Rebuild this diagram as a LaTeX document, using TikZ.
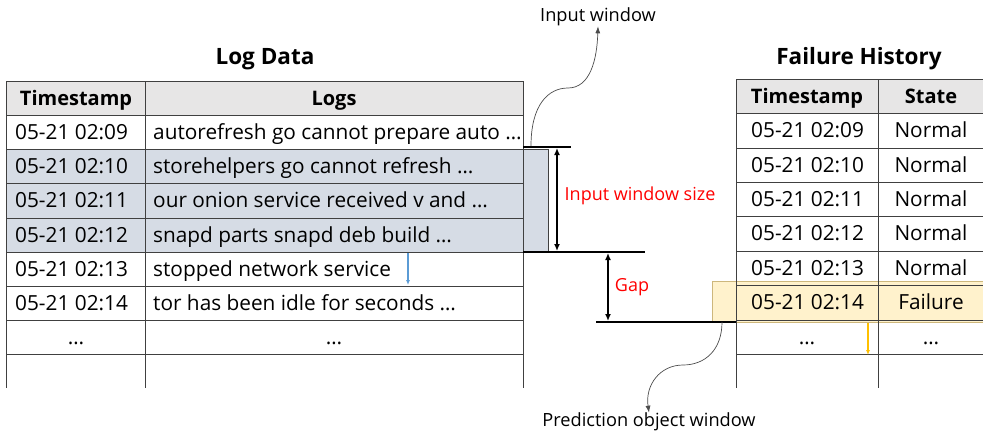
\documentclass[tikz,border=0pt]{standalone}
\usepackage{fontspec}
\setmainfont{Open Sans}
\usetikzlibrary{arrows.meta}
\definecolor{headgray}{HTML}{E7E6E6}
\definecolor{winblue}{HTML}{D6DCE5}
\definecolor{predyellow}{HTML}{FFF2CC}
\definecolor{predborder}{HTML}{CDB77C}
\definecolor{gridline}{HTML}{404040}
\definecolor{stepblue}{HTML}{5B9BD5}
\definecolor{stepgold}{HTML}{FFC000}
\tikzset{
  cell/.style={inner sep=0pt,text height=14.8pt,text depth=0pt,font=\fontsize{20.8}{24}\selectfont},
  headcell/.style={cell,font=\fontsize{20}{24}\selectfont\bfseries},
  title/.style={inner sep=0pt,font=\fontsize{22.5}{26}\selectfont\bfseries},
  note/.style={inner sep=0pt,font=\fontsize{18.2}{21}\selectfont},
  redlabel/.style={inner sep=0pt,text=red,font=\fontsize{18}{21}\selectfont},
  bracket/.style={line width=1.8pt},
  span/.style={line width=1.8pt,{Latex[length=7pt,width=6pt]}-{Latex[length=7pt,width=6pt]}},
  pointer/.style={gray!60!black,line width=0.7pt,-{Latex[length=7pt,width=5pt]}}
}
\begin{document}
\begin{tikzpicture}[x=1pt,y=-1pt]
\useasboundingbox (0,0) rectangle (983,434);

% Log Data table
\fill[headgray] (6,81) rectangle (523,115);
\filldraw[fill=winblue,draw=gridline] (6,149) rectangle (548,252);
\foreach \y in {81,115,149,183,218,252,286,320,354}
  \draw[gridline] (6,\y) -- (523,\y);
\foreach \x in {6,145,523}
  \draw[gridline] (\x,81) -- (\x,388);
\node[title] (logtitle) at (265,59) {Log Data};
\node[headcell] (lhtime) at (76,98) {Timestamp};
\node[headcell] (lhlogs) at (334,98) {Logs};
\foreach \y/\t/\m [count=\i] in {132/02:09/autorefresh go cannot prepare auto \ldots,
    166/02:10/storehelpers go cannot refresh \ldots,
    200.5/02:11/our onion service received v and \ldots,
    235/02:12/snapd parts snapd deb build \ldots,
    269/02:13/stopped network service,
    303/02:14/tor has been idle for seconds \ldots}{
  \node[cell,anchor=west] (ltime\i) at (15,\y) {05-21 \t};
  \node[cell,anchor=west] (llog\i) at (153,\y) {\m};
}
\node[cell] (ltime7) at (76,337) {\ldots};
\node[cell] (llog7) at (334,337) {\ldots};

% Failure History table
\fill[headgray] (736,79) rectangle (983,113);
\filldraw[fill=predyellow,draw=predborder] (712,281) rectangle (990,322);
\foreach \y in {79,113,148,182,216,251,285,320,354}
  \draw[gridline] (736,\y) -- (983,\y);
\foreach \x in {736,878}
  \draw[gridline] (\x,79) -- (\x,388);
\node[title] (failtitle) at (859,59) {Failure History};
\node[headcell] (rhtime) at (807,96) {Timestamp};
\node[headcell] (rhstate) at (931,96) {State};
\foreach \y/\t/\s [count=\i] in {130.5/02:09/Normal,165/02:10/Normal,199/02:11/Normal,
    233.5/02:12/Normal,268/02:13/Normal,302.5/02:14/Failure}{
  \node[cell,anchor=west] (rtime\i) at (751,\y) {05-21 \t};
  \node[cell] (rstate\i) at (931,\y) {\s};
}
\node[cell] (rtime7) at (807,337) {\ldots};
\node[cell] (rstate7) at (931,337) {\ldots};

% window markers
\coordinate (iwl) at (523,147);  \coordinate (iwr) at (571,147);
\coordinate (iwbl) at (523,252); \coordinate (iwbr) at (645,252);
\coordinate (gpl) at (596,322);  \coordinate (gpr) at (736,322);
\draw[bracket] (iwl) -- (iwr);
\draw[bracket] (iwbl) -- (iwbr);
\draw[bracket] (gpl) -- (gpr);
\draw[span] (557,148) -- (557,251);
\draw[span] (608,253) -- (608,321);
\node[redlabel] (wsize) at (640,196) {Input window size};
\node[redlabel] (gap) at (632,287) {Gap};

\draw[stepblue,line width=1.3pt,-{Latex[length=5pt,width=4pt]}] (408,253) -- (408,285);
\draw[stepgold,line width=1.3pt,-{Latex[length=5pt,width=4pt]}] (868,323) -- (868,355);

\node[note] (iwlabel) at (598,17) {Input window};
\node[note] (pwlabel) at (649,422) {Prediction object window};
\coordinate (iwfoot) at (531,146);
\coordinate (pwfoot) at (722,322);
\draw[pointer] (iwfoot) .. controls (531,105) and (548,88) .. (568,88)
  .. controls (590,88) and (597,60) .. (iwlabel.south);
\draw[pointer] (pwfoot) .. controls (722,350) and (705,365) .. (683,365)
  .. controls (660,365) and (645,385) .. (pwlabel.north);

\end{tikzpicture}
\end{document}
